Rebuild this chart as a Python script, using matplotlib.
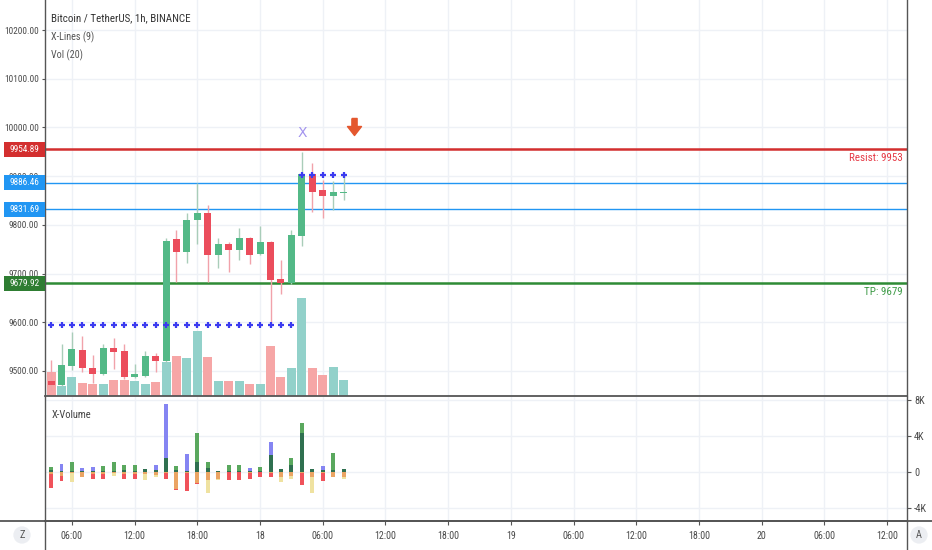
import numpy as np
import matplotlib
matplotlib.use("Agg")
import matplotlib.pyplot as plt
from matplotlib import font_manager
from matplotlib.font_manager import FontProperties
from matplotlib.textpath import TextPath
from matplotlib.transforms import blended_transform_factory
from matplotlib.patches import Rectangle
from matplotlib.lines import Line2D

# ---------------- data ----------------
# hours counted from 17 Jan 00:00 (1h candles, 17 04:00 .. 18 08:00)
hours = list(range(4, 33))
opens  = [9480, 9471, 9510, 9543, 9507, 9493, 9548, 9541, 9488, 9489, 9530, 9520, 9770, 9744, 9810,
          9824, 9737, 9761, 9748, 9772, 9741, 9765, 9689, 9680, 9777, 9904, 9871, 9859, 9865]
highs  = [9522, 9555, 9579, 9572, 9533, 9555, 9568, 9555, 9514, 9540, 9536, 9773, 9789, 9824, 9886,
          9840, 9773, 9764, 9794, 9774, 9797, 9767, 9728, 9789, 9950, 9926, 9892, 9890, 9906]
lows   = [9461, 9469, 9502, 9498, 9475, 9492, 9504, 9483, 9486, 9487, 9498, 9518, 9682, 9721, 9760,
          9683, 9712, 9704, 9728, 9719, 9738, 9599, 9658, 9678, 9756, 9827, 9813, 9830, 9851]
closes = [9471, 9512, 9545, 9507, 9493, 9548, 9539, 9488, 9493, 9531, 9520, 9767, 9744, 9810, 9824,
          9737, 9761, 9748, 9772, 9738, 9765, 9687, 9680, 9779, 9904, 9868, 9859, 9868, 9868]
volumes = [980, 390, 780, 530, 490, 490, 660, 660, 620, 490, 580, 1350, 1620, 1530, 2620,
           1580, 620, 620, 620, 490, 490, 2020, 750, 1130, 3930, 1130, 850, 1180, 660]

# X-Volume components
xv_green  = [480, 70, 1110, 110, 70, 630, 1110, 740, 740, 260, 190, 1480, 630, 70, 4260,
             1110, 110, 740, 740, 110, 480, 1850, 260, 1480, 5370, 260, 190, 2110, 260]
xv_blue   = [190, 850, 110, 370, 480, 110, 110, 190, 110, 260, 740, 7510, 190, 1960, 1110,
             370, 110, 70, 70, 370, 110, 3260, 260, 740, 4260, 260, 630, 190, 260]
xv_red    = [1850, 1040, 190, 630, 810, 810, 190, 810, 810, 260, 370, 810, 2040, 2220, 1410,
             930, 850, 930, 930, 810, 630, 630, 630, 480, 1550, 630, 1110, 630, 560]
xv_yellow = [260, 480, 1220, 630, 260, 260, 480, 260, 260, 930, 560, 190, 1960, 190, 1300,
             2410, 930, 110, 110, 190, 110, 190, 1220, 850, 190, 2410, 190, 630, 810]

# X-Lines
support_level = 9594
support_hours = hours[:24]
top_level = 9902
top_hours = hours[24:]
levels = [9954.89, 9886.46, 9831.69, 9679.92]
level_labels = ["9954.89", "9886.46", "9831.69", "9679.92"]
resist_text = "Resist: 9953"
tp_text = "TP: 9679"
title_text = "Bitcoin / TetherUS, 1h, BINANCE"

price_ticks = [9500, 9600, 9700, 9800, 9900, 10000, 10100, 10200]
time_ticks = [6, 12, 18, 24, 30, 36, 42, 48, 54, 60, 66, 72, 78, 84]
time_labels = ["06:00", "12:00", "18:00", "18", "06:00", "12:00", "18:00", "19",
               "06:00", "12:00", "18:00", "20", "06:00", "12:00"]
xv_ticks = [-4000, 0, 4000, 8000]
xv_tick_labels = ["-4K", "0", "4K", "8K"]

# ---------------- font: a condensed sans closest to the reference proportions ----------------
def _width(s, fp, size=10.0):
    return TextPath((0, 0), s, size=size, prop=fp).get_extents().width

_fams = ['Noto Sans', 'Roboto', 'Open Sans', 'Liberation Sans', 'DejaVu Sans', 'Lato', 'Inter']
_sufs = ['', ' Condensed', ' SemiCondensed', ' Semi Condensed', ' Narrow', ' Medium Condensed']
_allowed = {fa + su for fa in _fams for su in _sufs}
TARGET_RATIO = 4.8   # width("10200.00") / capheight in the reference
best = None
_count = 0
for f in font_manager.fontManager.ttflist:
    if _count > 40:
        break
    if f.name not in _allowed or f.style != 'normal':
        continue
    if f.weight not in (400, 'normal', 'regular', 'book'):
        continue
    if not (f.fname.lower().endswith('.ttf') or f.fname.lower().endswith('.otf')):
        continue
    _count += 1
    try:
        fp0 = FontProperties(fname=f.fname)
        wd = _width("10200.00", fp0)
        ht = TextPath((0, 0), "H", size=10, prop=fp0).get_extents().height
        score = abs(wd / ht - TARGET_RATIO)
    except Exception:
        continue
    if best is None or score < best[0]:
        best = (score, f.fname)
FONT_FILE = best[1] if best else None

def fprop(text, target_px, maxpt=9.5):
    fp = FontProperties(fname=FONT_FILE) if FONT_FILE else FontProperties(family='DejaVu Sans')
    w10 = _width(text, fp)  # width in points at size 10
    size = min(maxpt, 10.0 * (target_px * 72.0 / 100.0) / w10)
    fp.set_size(size)
    return fp

FP_TICK = fprop("10200.00", 33)
FP_TITLE = fprop(title_text, 139)
FP_LEG = fprop("X-Lines (9)", 42)
FP_BOX = fprop("9954.89", 29)
FP_RLAB = fprop(resist_text, 52)
FP_TIME = fprop("06:00", 21)
FP_XV = fprop("X-Volume", 39)
FP_R = fprop("-4K", 13)
FP_BTN = FontProperties(fname=FONT_FILE) if FONT_FILE else FontProperties(family='DejaVu Sans')
FP_BTN.set_size(7.5)

# ---------------- styling ----------------
W, H = 932, 550
GREEN = "#53b987"
RED = "#eb4d5c"
GREEN_WICK = "#a9cdb9"
RED_WICK = "#f1a2aa"
VOL_UP = "#92d1ca"
VOL_DN = "#f6a6a6"
GRID = "#eef1f6"
AXC = "#555555"
TXT = "#4a4a4a"

fig = plt.figure(figsize=(W / 100, H / 100), dpi=100)
fig.patch.set_facecolor("white")

L, R = 45, 907
main_top, main_bot = 0, 396
low_top, low_bot = 397, 521
ax = fig.add_axes([L / W, 1 - main_bot / H, (R - L) / W, (main_bot - main_top) / H])
ax2 = fig.add_axes([L / W, 1 - low_bot / H, (R - L) / W, (low_bot - low_top) / H])

xmin, xmax = 3.42, 85.9
ax.set_xlim(xmin, xmax)
ax.set_ylim(9448.5, 10261.6)
ax2.set_xlim(xmin, xmax)
ax2.set_ylim(-5500, 8280)

h = np.array(hours, dtype=float)
o = np.array(opens, float); c = np.array(closes, float)
hi = np.array(highs, float); lo = np.array(lows, float)
up = c >= o

# grid
for a in (ax, ax2):
    a.set_axisbelow(True)
    a.set_xticks(time_ticks)
    a.grid(True, color=GRID, linewidth=1.0)
    for s in a.spines.values():
        s.set_color(AXC)
        s.set_linewidth(1.0)
    a.spines['top'].set_visible(False)

ax.set_yticks(price_ticks)
ax.set_yticklabels([f"{p:.2f}" for p in price_ticks])
ax.tick_params(axis='y', which='both', direction='out', length=2.5, width=0.8, color=AXC,
               labelcolor=TXT, pad=2)
for lbl in ax.get_yticklabels():
    lbl.set_fontproperties(FP_TICK)
ax.tick_params(axis='x', length=0, labelbottom=False)
ax.spines['bottom'].set_linewidth(1.3)

# volume (overlay at bottom of main panel)
vol_scale = 15840.0
trans_vol = blended_transform_factory(ax.transData, ax.transAxes)
vol_frac = np.array(volumes, float) / vol_scale
ax.bar(h, vol_frac, width=0.86, bottom=0, color=[VOL_UP if u else VOL_DN for u in up],
       transform=trans_vol, zorder=1, linewidth=0)

# level lines
ax.axhline(levels[0], color="#d32f2f", linewidth=1.8, zorder=2)
ax.axhline(levels[1], color="#2196f3", linewidth=1.0, zorder=2)
ax.axhline(levels[2], color="#2196f3", linewidth=1.0, zorder=2)
ax.axhline(levels[3], color="#2e8b35", linewidth=1.8, zorder=2)

# candles
ax.vlines(h, lo, hi, colors=[GREEN_WICK if u else RED_WICK for u in up], linewidth=1.0, zorder=3)
body_h = np.maximum(np.abs(c - o), 1.5)
ax.bar(h, body_h, width=0.67, bottom=np.minimum(o, c), color=[GREEN if u else RED for u in up],
       linewidth=0, zorder=4)

# X-Lines plus markers
ax.plot(support_hours, [support_level] * len(support_hours), linestyle='none', marker='+',
        markersize=4.8, markeredgewidth=1.6, color="#3b3bf0", zorder=5)
ax.plot(top_hours, [top_level] * len(top_hours), linestyle='none', marker='+',
        markersize=4.8, markeredgewidth=1.6, color="#3b3bf0", zorder=5)

# X signal and arrow
ax.text(hours[24], 9988, "X", color="#a394ee", fontsize=10, ha='center', va='center', zorder=6)
arrow = [(-2.6, 9), (2.6, 9), (2.6, 1), (7, 1), (0, -8), (-7, 1), (-2.6, 1), (-2.6, 9)]
ax.plot([hours[-1] + 1], [10001], marker=arrow, markersize=13, color="#e4572e",
        linestyle='none', zorder=6, clip_on=False)

# left price boxes
tb = blended_transform_factory(ax.transAxes, ax.transData)
box_w = 41 / (R - L)
box_h = 15 * 2.0534
box_cols = ["#d32f2f", "#2196f3", "#2196f3", "#2e7d32"]
for lv, lab, col in zip(levels, level_labels, box_cols):
    ax.add_patch(Rectangle((-box_w, lv - box_h / 2), box_w, box_h, transform=tb,
                           facecolor=col, edgecolor='none', clip_on=False, zorder=20))
    ax.text(-box_w / 2, lv, lab, transform=tb, color="white", fontproperties=FP_BOX,
            ha='center', va='center', clip_on=False, zorder=21)

# right labels
ax.text(0.995, 0.601, resist_text, transform=ax.transAxes, color="#e53945",
        fontproperties=FP_RLAB, ha='right', va='center')
ax.text(0.995, 0.262, tp_text, transform=ax.transAxes, color="#3d9a46",
        fontproperties=FP_RLAB, ha='right', va='center')

# legend texts
ax.text(0.0075, 0.9545, title_text, transform=ax.transAxes,
        color="#333333", fontproperties=FP_TITLE, ha='left', va='center')
ax.text(0.0075, 0.9066, "X-Lines (9)", transform=ax.transAxes, color="#555555",
        fontproperties=FP_LEG, ha='left', va='center')
ax.text(0.0075, 0.861, "Vol (20)", transform=ax.transAxes, color="#555555",
        fontproperties=FP_LEG, ha='left', va='center')

# ---------------- lower panel ----------------
g = np.array(xv_green, float); b = np.array(xv_blue, float)
rr = np.array(xv_red, float); yy = np.array(xv_yellow, float)
bw = 0.38
pos_overlap = np.minimum(g, b)
pos_top = np.maximum(g, b)
ax2.bar(h, pos_overlap, width=bw, color="#2f7050", linewidth=0, zorder=3)
ax2.bar(h, pos_top - pos_overlap, bottom=pos_overlap, width=bw,
        color=np.where(g >= b, "#5aa85e", "#8585f2"), linewidth=0, zorder=3)
neg_overlap = np.minimum(rr, yy)
neg_top = np.maximum(rr, yy)
ax2.bar(h, -neg_overlap, width=bw, color="#eba463", linewidth=0, zorder=3)
ax2.bar(h, -(neg_top - neg_overlap), bottom=-neg_overlap, width=bw,
        color=np.where(rr >= yy, "#f0525a", "#efe2a0"), linewidth=0, zorder=3)

ax2.set_yticks(xv_ticks)
ax2.set_yticklabels(xv_tick_labels)
ax2.yaxis.tick_right()
ax2.tick_params(axis='y', direction='out', length=3, width=0.8, color=AXC,
                labelcolor=TXT, pad=2, left=False, labelleft=False)
for lbl in ax2.get_yticklabels():
    lbl.set_fontproperties(FP_R)
ax2.set_xticklabels(time_labels)
ax2.tick_params(axis='x', direction='out', length=3, width=0.8, color=AXC,
                labelcolor=TXT, pad=4)
for lbl in ax2.get_xticklabels():
    lbl.set_fontproperties(FP_TIME)
ax2.spines['bottom'].set_linewidth(1.3)
ax2.text(0.0075, 0.855, "X-Volume", transform=ax2.transAxes, color="#444444",
         fontproperties=FP_XV, ha='left', va='center')

# frame lines extending beyond panels
fig.add_artist(Line2D([0, 1], [1 - low_bot / H] * 2, transform=fig.transFigure,
                      color=AXC, linewidth=1.3))
fig.add_artist(Line2D([L / W] * 2, [0, 1 - low_bot / H], transform=fig.transFigure,
                      color=AXC, linewidth=1.0))
fig.add_artist(Line2D([R / W] * 2, [0, 1 - low_bot / H], transform=fig.transFigure,
                      color=AXC, linewidth=1.0))

# corner buttons
fig.text(22 / W, 1 - 535 / H, "Z", fontproperties=FP_BTN, color="#555555", ha='center', va='center',
         bbox=dict(boxstyle='circle,pad=0.35', facecolor="#eceef2", edgecolor='none'))
fig.text(919 / W, 1 - 535 / H, "A", fontproperties=FP_BTN, color="#555555", ha='center', va='center',
         bbox=dict(boxstyle='circle,pad=0.35', facecolor="#eceef2", edgecolor='none'))

fig.savefig("out.png", dpi=100)
